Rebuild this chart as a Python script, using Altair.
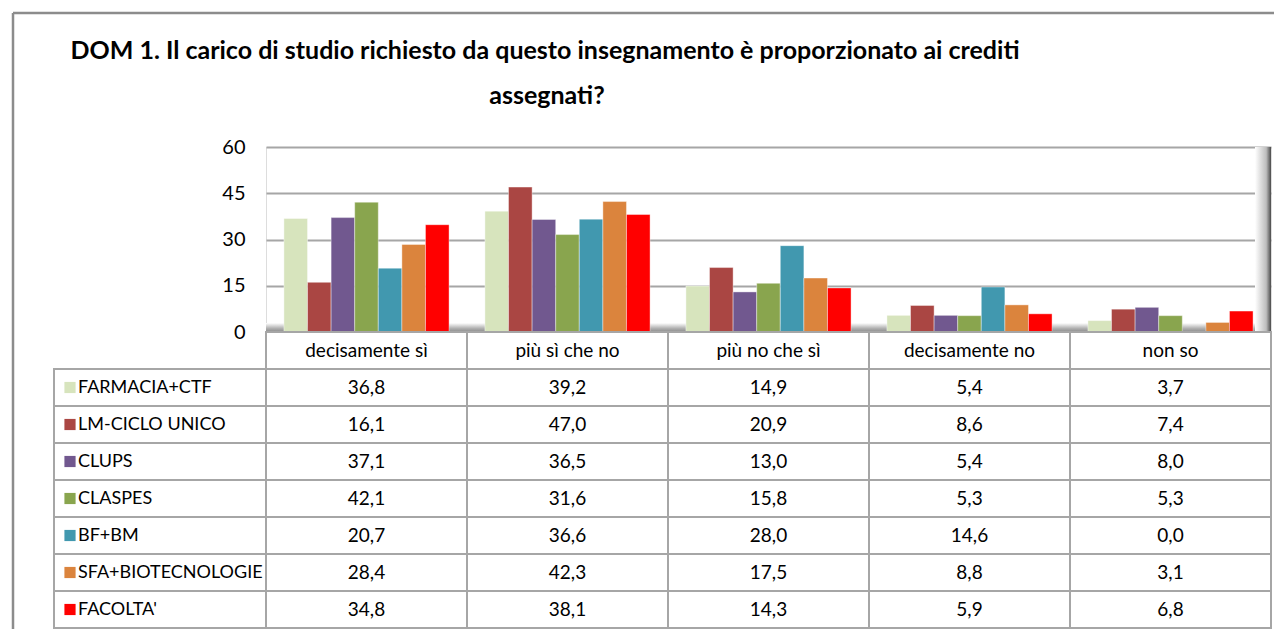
import altair as alt
import pandas as pd

# ---------------- data ----------------
categories = ["decisamente sì", "più sì che no", "più no che sì", "decisamente no", "non so"]
series = ["FARMACIA+CTF", "LM-CICLO UNICO", "CLUPS", "CLASPES", "BF+BM",
          "SFA+BIOTECNOLOGIE", "FACOLTA'"]
farmacia_ctf = [36.8, 39.2, 14.9, 5.4, 3.7]
lm_ciclo_unico = [16.1, 47.0, 20.9, 8.6, 7.4]
clups = [37.1, 36.5, 13.0, 5.4, 8.0]
claspes = [42.1, 31.6, 15.8, 5.3, 5.3]
bf_bm = [20.7, 36.6, 28.0, 14.6, 0.0]
sfa_biotecnologie = [28.4, 42.3, 17.5, 8.8, 3.1]
facolta = [34.8, 38.1, 14.3, 5.9, 6.8]
colors = ["#d7e4bd", "#aa4643", "#71588f", "#89a54e", "#4198af", "#db843d", "#ff0000"]
y_ticks = [0, 15, 30, 45, 60]
title_lines = ["DOM 1. Il carico di studio richiesto da questo insegnamento è proporzionato ai crediti",
               "assegnati?"]

all_values = [farmacia_ctf, lm_ciclo_unico, clups, claspes, bf_bm, sfa_biotecnologie, facolta]
rows = []
for s, vals in zip(series, all_values):
    for c, v in zip(categories, vals):
        rows.append({"series": s, "category": c, "value": v, "row": s})
df = pd.DataFrame(rows)
header_df = pd.DataFrame({"category": categories, "row": ["__header"] * len(categories)})
label_df = pd.DataFrame({"series": series, "row": series})

W, H = 1005, 185
TABLE_BOTTOM = 481
FONT = "Lato"
GRID = "#a6a6a6"

x_scale = alt.Scale(domain=categories, paddingInner=0, paddingOuter=0)
xo_scale = alt.Scale(domain=series, paddingInner=0, paddingOuter=0.76)
color_scale = alt.Scale(domain=series, range=colors)
row_domain = ["__header"] + series
row_scale = alt.Scale(domain=row_domain, range=[H, TABLE_BOTTOM], paddingInner=0, paddingOuter=0)

one = pd.DataFrame({"a": [0]})

# ---------------- frame (outer border) ----------------
frame_top = alt.Chart(one).mark_rule(color="#8c8c8c", strokeWidth=2.5).encode(
    x=alt.value(-253), x2=alt.value(1008), y=alt.value(-134))
frame_left = alt.Chart(one).mark_rule(color="#8c8c8c", strokeWidth=2.5).encode(
    x=alt.value(-253), y=alt.value(-134), y2=alt.value(482))

# ---------------- title ----------------
title1 = alt.Chart(pd.DataFrame({"t": [title_lines[0]]})).mark_text(
    font=FONT, fontSize=25, fontWeight="bold", align="center", baseline="alphabetic",
    color="black").encode(text="t:N", x=alt.value(279), y=alt.value(-88))
title2 = alt.Chart(pd.DataFrame({"t": [title_lines[1]]})).mark_text(
    font=FONT, fontSize=25, fontWeight="bold", align="center", baseline="alphabetic",
    color="black").encode(text="t:N", x=alt.value(281), y=alt.value(-43))

# ---------------- 3D-ish wall decorations ----------------
floor = alt.Chart(one).mark_rect(
    fill=alt.LinearGradient(gradient="linear", x1=0, y1=0, x2=0, y2=1,
                            stops=[alt.GradientStop(color="#ffffff", offset=0),
                                   alt.GradientStop(color="#b0b0b0", offset=0.6),
                                   alt.GradientStop(color="#8a8a8a", offset=1)])
).encode(x=alt.value(0), x2=alt.value(W), y=alt.value(H - 9), y2=alt.value(H))
right_wall = alt.Chart(one).mark_rect(
    fill=alt.LinearGradient(gradient="linear", x1=0, y1=0, x2=1, y2=0,
                            stops=[alt.GradientStop(color="#ffffff", offset=0),
                                   alt.GradientStop(color="#bdbdbd", offset=0.7),
                                   alt.GradientStop(color="#4a4a4a", offset=1)])
).encode(x=alt.value(W - 16), x2=alt.value(W), y=alt.value(0), y2=alt.value(H))

# ---------------- bars ----------------
bars = alt.Chart(df).mark_bar(stroke="white", strokeWidth=0.8, strokeOpacity=0.5).encode(
    x=alt.X("category:N", scale=x_scale, axis=None),
    xOffset=alt.XOffset("series:N", scale=xo_scale),
    y=alt.Y("value:Q", scale=alt.Scale(domain=[0, 60], nice=False),
            axis=alt.Axis(values=y_ticks, title=None, domain=False, ticks=False,
                          grid=True, gridColor=GRID, gridWidth=2,
                          labelFont=FONT, labelFontSize=20, labelColor="black",
                          labelPadding=21)),
    color=alt.Color("series:N", scale=color_scale, legend=None),
)

# ---------------- table ----------------
cell_style = dict(fill="white", stroke=GRID, strokeWidth=2)
header_cells = alt.Chart(header_df).mark_rect(**cell_style).encode(
    x=alt.X("category:N", scale=x_scale, axis=None),
    y=alt.Y("row:N", scale=row_scale, axis=None))
value_cells = alt.Chart(df).mark_rect(**cell_style).encode(
    x=alt.X("category:N", scale=x_scale, axis=None),
    y=alt.Y("row:N", scale=row_scale, axis=None))
label_cells = alt.Chart(label_df).mark_rect(**cell_style).encode(
    x=alt.value(-212), x2=alt.value(0),
    y=alt.Y("row:N", scale=row_scale, axis=None))
swatches = alt.Chart(label_df).mark_point(shape="square", filled=True, size=125, opacity=1).encode(
    x=alt.value(-196),
    y=alt.Y("row:N", scale=row_scale, axis=None),
    color=alt.Color("series:N", scale=color_scale, legend=None))
label_text = alt.Chart(label_df).mark_text(
    font=FONT, fontSize=18, align="left", baseline="middle", color="black").encode(
    x=alt.value(-188),
    y=alt.Y("row:N", scale=row_scale, axis=None),
    text="series:N")
header_text = alt.Chart(header_df).mark_text(
    font=FONT, fontSize=19, align="center", baseline="middle", color="black").encode(
    x=alt.X("category:N", scale=x_scale, axis=None),
    y=alt.Y("row:N", scale=row_scale, axis=None),
    text="category:N")
value_text = alt.Chart(df).transform_calculate(
    label="replace(format(datum.value, '.1f'), '.', ',')"
).mark_text(font=FONT, fontSize=19, align="center", baseline="middle", color="black").encode(
    x=alt.X("category:N", scale=x_scale, axis=None),
    y=alt.Y("row:N", scale=row_scale, axis=None),
    text="label:N")

chart = alt.layer(
    floor, right_wall, bars,
    header_cells, value_cells, label_cells, swatches,
    label_text, header_text, value_text,
    frame_top, frame_left, title1, title2,
).resolve_scale(y="independent").properties(
    width=W, height=H,
    padding={"left": 3, "top": 3, "right": 0, "bottom": 0},
    background="white",
).configure_view(stroke="#9c9c9c", strokeWidth=2).configure(font=FONT)

chart.save("out.html", embed_options={"renderer": "svg", "actions": False})
